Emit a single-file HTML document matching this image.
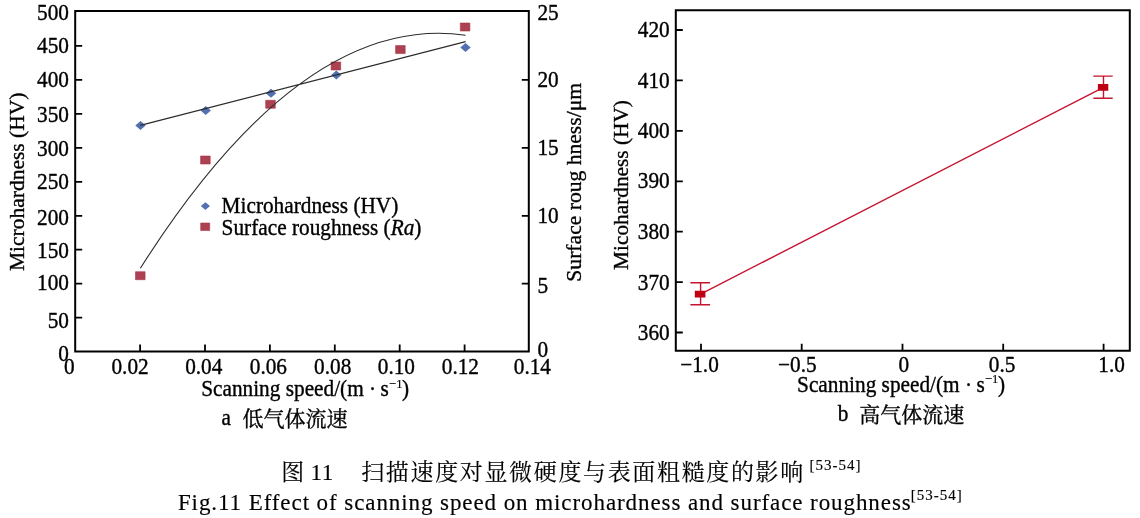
<!DOCTYPE html>
<html><head><meta charset="utf-8"><title>Fig.11</title>
<style>
html,body{margin:0;padding:0;background:#fff;}
body{width:1140px;height:518px;overflow:hidden;font-family:"Liberation Serif",serif;}
svg{display:block;font-family:"Liberation Serif",serif;font-size:21.3px;fill:#000;will-change:transform;}
text,.cj{stroke:#000;stroke-width:0.35px;stroke-linejoin:round;}
.cap text,.cap .cj{stroke-width:0.15px;}
.cjk{font-family:"Liberation Serif","Noto Serif CJK SC",serif;}
</style></head><body>
<svg width="1140" height="518" viewBox="0 0 1140 518">
<path d="M75.2 351.5V11.1H528.8V351.5Z" fill="none" stroke="#000" stroke-width="2"/>
<path d="M75.2 317.7h7M75.2 283.7h7M75.2 249.7h7M75.2 215.8h7M75.2 181.8h7M75.2 147.8h7M75.2 113.8h7M75.2 79.8h7M75.2 45.8h7M528.8 283.7h-7M528.8 215.8h-7M528.8 147.8h-7M528.8 79.8h-7M140.1 351.5v-7M205.0 351.5v-7M269.9 351.5v-7M334.8 351.5v-7M399.7 351.5v-7M464.6 351.5v-7" stroke="#000" stroke-width="1.8" fill="none"/>
<text x="69.0" y="20.0" text-anchor="end" transform="matrix(1 0 0 1.045 0 -0.90)">500</text>
<text x="69.0" y="53.0" text-anchor="end" transform="matrix(1 0 0 1.045 0 -2.38)">450</text>
<text x="69.0" y="87.3" text-anchor="end" transform="matrix(1 0 0 1.045 0 -3.93)">400</text>
<text x="69.0" y="121.7" text-anchor="end" transform="matrix(1 0 0 1.045 0 -5.48)">350</text>
<text x="69.0" y="156.3" text-anchor="end" transform="matrix(1 0 0 1.045 0 -7.03)">300</text>
<text x="69.0" y="189.5" text-anchor="end" transform="matrix(1 0 0 1.045 0 -8.53)">250</text>
<text x="69.0" y="225.5" text-anchor="end" transform="matrix(1 0 0 1.045 0 -10.15)">200</text>
<text x="69.0" y="258.5" text-anchor="end" transform="matrix(1 0 0 1.045 0 -11.63)">150</text>
<text x="69.0" y="290.4" text-anchor="end" transform="matrix(1 0 0 1.045 0 -13.07)">100</text>
<text x="69.0" y="328.5" text-anchor="end" transform="matrix(1 0 0 1.045 0 -14.78)">50</text>
<text x="69.0" y="361.4" text-anchor="end" transform="matrix(1 0 0 1.045 0 -16.26)">0</text>
<text x="537.4" y="20.1" transform="matrix(1 0 0 1.045 0 -0.90)">25</text>
<text x="537.4" y="87.0" transform="matrix(1 0 0 1.045 0 -3.91)">20</text>
<text x="537.4" y="155.0" transform="matrix(1 0 0 1.045 0 -6.97)">15</text>
<text x="537.4" y="223.0" transform="matrix(1 0 0 1.045 0 -10.03)">10</text>
<text x="537.4" y="293.2" transform="matrix(1 0 0 1.045 0 -13.19)">5</text>
<text x="537.4" y="356.9" transform="matrix(1 0 0 1.045 0 -16.06)">0</text>
<text x="69.4" y="374.5" text-anchor="middle" transform="matrix(1 0 0 1.045 0 -16.85)">0</text>
<text x="130.1" y="374.5" text-anchor="middle" transform="matrix(1 0 0 1.045 0 -16.85)">0.02</text>
<text x="203.8" y="374.5" text-anchor="middle" transform="matrix(1 0 0 1.045 0 -16.85)">0.04</text>
<text x="268.4" y="374.5" text-anchor="middle" transform="matrix(1 0 0 1.045 0 -16.85)">0.06</text>
<text x="332.7" y="374.5" text-anchor="middle" transform="matrix(1 0 0 1.045 0 -16.85)">0.08</text>
<text x="396.4" y="374.5" text-anchor="middle" transform="matrix(1 0 0 1.045 0 -16.85)">0.10</text>
<text x="460.4" y="374.5" text-anchor="middle" transform="matrix(1 0 0 1.045 0 -16.85)">0.12</text>
<text x="532.4" y="374.5" text-anchor="middle" transform="matrix(1 0 0 1.045 0 -16.85)">0.14</text>
<path d="M135.3 125.4L140.5 120.9L145.7 125.4L140.5 129.9ZM200.5 110.4L205.7 105.9L210.9 110.4L205.7 114.9ZM265.8 93.3L271 88.8L276.2 93.3L271 97.8ZM331.1 75.0L336.3 70.5L341.5 75.0L336.3 79.5ZM460.3 47.5L465.5 43.0L470.7 47.5L465.5 52.0ZM200.8 206.1L205.4 202.2L210.0 206.1L205.4 210.0Z" fill="#5470b0"/>
<path d="M135.5 271.7h9.6v8.0h-9.6ZM200.6 156.0h9.6v8.0h-9.6ZM265.7 100.3h9.6v8.0h-9.6ZM331.1 62.0h9.6v8.0h-9.6ZM395.6 45.6h9.6v8.0h-9.6ZM460.3 23.0h9.6v8.0h-9.6ZM200.7 223h9v7.5h-9Z" fill="#ad4151" stroke="#a63848" stroke-width="0.6"/>
<path d="M140.3 125.4L465.6 41.6M140.4 268.2Q303.0 11.8 465.6 35.2" stroke="#2b2b2b" stroke-width="1.1" fill="none"/>
<text x="221.6" y="213.1" transform="matrix(1 0 0 1.045 0 -9.59)">Microhardness (HV)</text>
<text x="221.6" y="234.6" transform="matrix(1 0 0 1.045 0 -10.56)">Surface roughness (<tspan font-style="italic">Ra</tspan>)</text>
<text transform="translate(24.4 181.8) rotate(-90)" font-size="21.5" text-anchor="middle">Microhardness (HV)</text>
<text transform="translate(581 182.3) rotate(-90)" font-size="21.6" text-anchor="middle">Surface roug hness/μm</text>
<text x="201.2" y="395.8" transform="matrix(1 0 0 1.045 0 -17.81)">Scanning speed/(m<tspan x="369.0">·</tspan><tspan x="380.5">s</tspan><tspan x="389.1" dy="-7.8" font-size="12.6" stroke-width="0.15">−1</tspan><tspan x="402.0" dy="7.8">)</tspan></text>
<text x="221.5" y="425.5" transform="matrix(1 0 0 1.045 0 -19.15)">a</text>
<text class="cj cjk" x="242.6" y="426.3" font-size="21">低气体流速</text>
<path d="M675.8 350.8V10.2H1129.8V350.8Z" fill="none" stroke="#000" stroke-width="2"/>
<path d="M675.8 332.5h7M675.8 282.1h7M675.8 231.7h7M675.8 181.3h7M675.8 130.8h7M675.8 80.4h7M675.8 30.0h7M701 350.8v-7M801.7 350.8v-7M902.5 350.8v-7M1003.2 350.8v-7M1103.6 350.8v-7" stroke="#000" stroke-width="1.8" fill="none"/>
<text x="669.7" y="37.2" text-anchor="end" transform="matrix(1 0 0 1.045 0 -1.67)">420</text>
<text x="669.7" y="88.1" text-anchor="end" transform="matrix(1 0 0 1.045 0 -3.96)">410</text>
<text x="669.7" y="137.6" text-anchor="end" transform="matrix(1 0 0 1.045 0 -6.19)">400</text>
<text x="669.7" y="188.1" text-anchor="end" transform="matrix(1 0 0 1.045 0 -8.46)">390</text>
<text x="669.7" y="238.6" text-anchor="end" transform="matrix(1 0 0 1.045 0 -10.74)">380</text>
<text x="669.7" y="289.6" text-anchor="end" transform="matrix(1 0 0 1.045 0 -13.03)">370</text>
<text x="669.7" y="339.7" text-anchor="end" transform="matrix(1 0 0 1.045 0 -15.29)">360</text>
<text x="699.5" y="371.8" text-anchor="middle" transform="matrix(1 0 0 1.045 0 -16.73)">−1.0</text>
<text x="797.4" y="371.8" text-anchor="middle" transform="matrix(1 0 0 1.045 0 -16.73)">−0.5</text>
<text x="903.9" y="371.8" text-anchor="middle" transform="matrix(1 0 0 1.045 0 -16.73)">0</text>
<text x="1002.1" y="371.8" text-anchor="middle" transform="matrix(1 0 0 1.045 0 -16.73)">0.5</text>
<text x="1111.6" y="371.8" text-anchor="middle" transform="matrix(1 0 0 1.045 0 -16.73)">1.0</text>
<path d="M700.6 294.1L1103.5 87.4M700.6 282.8V304.7M690.4 282.8h19.7M690.4 304.7h19.7M1103.5 76.1V98.3M1093.3 76.1h19.4M1093.3 98.3h19.4" stroke="#c5142f" stroke-width="1.4" fill="none"/>
<path d="M694.8 290.7h10.6v6.8h-10.6ZM1097.9 84.1h10.4v6.6h-10.4Z" fill="#be0012"/>
<text transform="translate(627.9 185) rotate(-90)" text-anchor="middle">Micohardness (HV)</text>
<text x="797.1" y="391.6" transform="matrix(1 0 0 1.045 0 -17.62)">Scanning speed/(m<tspan x="964.9">·</tspan><tspan x="976.4">s</tspan><tspan x="985.0" dy="-7.8" font-size="12.6" stroke-width="0.15">−1</tspan><tspan x="997.9" dy="7.8">)</tspan></text>
<text x="837.7" y="421.2" transform="matrix(1 0 0 1.045 0 -18.95)">b</text>
<text class="cj cjk" x="859.3" y="422.3" font-size="21">高气体流速</text>
<g class="cap">
<text class="cj cjk" x="281.3" y="479.6" font-size="23">图</text>
<text x="310.6" y="479.5" font-size="23" letter-spacing="0.5">11</text>
<text class="cj cjk" x="361.2" y="479.6" font-size="23" letter-spacing="1.65">扫描速度对显微硬度与表面粗糙度的影响</text>
<text x="809.6" y="470.1" font-size="15" letter-spacing="1">[53-54]</text>
<text x="177.9" y="510.4" font-size="23" letter-spacing="0.92">Fig.11 Effect of scanning speed on microhardness and surface roughness</text>
<text x="910.7" y="500.0" font-size="15" letter-spacing="1">[53-54]</text>
</g>
</svg>
</body></html>
